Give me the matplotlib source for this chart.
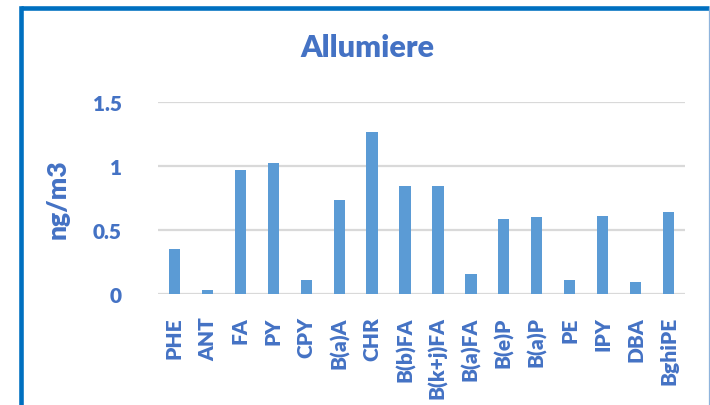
import numpy as np
import matplotlib.pyplot as plt
from matplotlib import lines

compounds = ['PHE', 'ANT', 'FA', 'PY', 'CPY', 'B(a)A', 'CHR', 'B(b)FA',
             'B(k+j)FA', 'B(a)FA', 'B(e)P', 'B(a)P', 'PE', 'IPY', 'DBA', 'BghiPE']
conc = [0.354, 0.031, 0.971, 1.026, 0.109, 0.734, 1.266, 0.846,
        0.846, 0.156, 0.583, 0.602, 0.109, 0.612, 0.094, 0.641]
yticks = [0, 0.5, 1, 1.5]
ytick_labels = ['0', '0.5', '1', '1.5']

txt = '#4472C4'
bar_col = '#5B9BD5'
plt.rcParams['font.family'] = ['Lato', 'DejaVu Sans']
heavy = 800

fig = plt.figure(figsize=(7.1, 4.06), dpi=100)
ax = fig.add_axes([158 / 710, 1 - 295 / 406, 527 / 710, 192 / 406])

x = np.arange(len(compounds))
ax.bar(x, conc, width=0.34, color=bar_col, zorder=3)

ax.set_xlim(-0.5, len(compounds) - 0.5)
ax.set_ylim(0, 1.5)
ax.set_yticks(yticks)
ax.set_yticklabels(ytick_labels, fontweight=heavy, fontsize=15)
ax.set_xticks(x)
ax.set_xticklabels(compounds, rotation=90, fontweight=heavy, fontsize=15)
ax.tick_params(axis='both', length=0, labelcolor=txt)
ax.tick_params(axis='y', pad=26)
ax.tick_params(axis='x', pad=16)
ax.grid(axis='y', color='#D9D9D9', lw=1.6, zorder=0)
for s in ax.spines.values():
    s.set_visible(False)

ax.set_ylabel('ng/m3', color=txt, fontsize=19, fontweight=heavy, labelpad=17)
fig.text(367 / 710, 1 - 48 / 406, 'Allumiere', color=txt, fontsize=22,
         fontweight=heavy, ha='center', va='center')

# outer frame
fig.add_artist(lines.Line2D([20.5 / 710, 20.5 / 710], [0, 1 - 9 / 406],
                            transform=fig.transFigure, color='#0070C0', lw=3.3,
                            solid_capstyle='projecting'))
fig.add_artist(lines.Line2D([20.5 / 710, 708.5 / 710], [1 - 9 / 406, 1 - 9 / 406],
                            transform=fig.transFigure, color='#0070C0', lw=3.3,
                            solid_capstyle='butt'))
fig.add_artist(lines.Line2D([708.5 / 710, 708.5 / 710], [0, 1 - 9 / 406],
                            transform=fig.transFigure, color='#8FB4DC', lw=0.9))

fig.savefig('out.png', dpi=100, facecolor='white')
